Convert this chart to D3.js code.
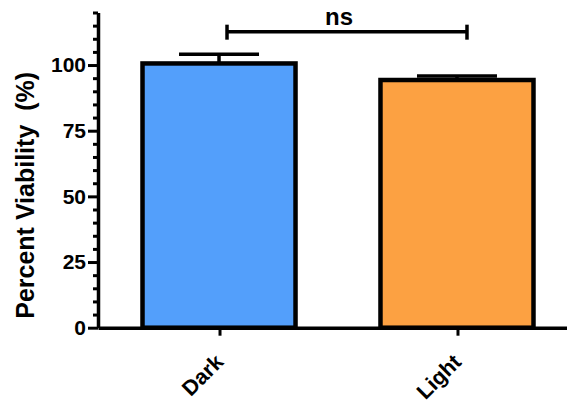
<!DOCTYPE html>
<html>
<head>
<meta charset="utf-8">
<script src="https://cdn.jsdelivr.net/npm/d3@7"></script>
<style>
  body { margin: 0; background: #fff; }
  svg text { font-family: "Liberation Sans", Arial, Helvetica, sans-serif; font-weight: bold; }
</style>
</head>
<body>
<div id="chart"></div>
<script>
// data
const groups = ["Dark", "Light"];
const means = [100.6, 94.3];
const errors = [3.5, 1.5];
const colors = ["#539ffb", "#fca142"];
const yTicks = [0, 25, 50, 75, 100];
const yMinorTicks = d3.range(0, 121, 5);
const sigLabel = "ns";

const width = 567, height = 402;

const svg = d3.select("#chart")
  .append("svg")
  .attr("width", width)
  .attr("height", height);

// scales
const x = d3.scaleBand()
  .domain(groups)
  .range([98, 578])
  .paddingInner(0.357)
  .paddingOuter(0.187);

const y = d3.scaleLinear()
  .domain([0, 120])
  .range([327.7, 12.5]);

// bars
svg.selectAll("rect.bar")
  .data(groups)
  .enter()
  .append("rect")
    .attr("class", "bar")
    .attr("x", d => x(d))
    .attr("y", (d, i) => y(means[i]))
    .attr("width", x.bandwidth())
    .attr("height", (d, i) => y(0) - y(means[i]))
    .attr("fill", (d, i) => colors[i])
    .attr("stroke", "#000")
    .attr("stroke-width", 4.5);

// error bars (upper only)
const capHalf = 40;
const err = svg.selectAll("g.err")
  .data(groups)
  .enter()
  .append("g")
    .attr("class", "err")
    .attr("stroke", "#000")
    .attr("stroke-width", 3.5);

err.append("line")
  .attr("x1", d => x(d) + x.bandwidth() / 2)
  .attr("x2", d => x(d) + x.bandwidth() / 2)
  .attr("y1", (d, i) => y(means[i]))
  .attr("y2", (d, i) => y(means[i] + errors[i]));

err.append("line")
  .attr("x1", d => x(d) + x.bandwidth() / 2 - capHalf)
  .attr("x2", d => x(d) + x.bandwidth() / 2 + capHalf)
  .attr("y1", (d, i) => y(means[i] + errors[i]))
  .attr("y2", (d, i) => y(means[i] + errors[i]));

// x-axis
const xAxis = svg.append("g")
  .attr("transform", `translate(0,${y(0)})`)
  .call(d3.axisBottom(x).tickSize(8).tickSizeOuter(0).tickPadding(0));

xAxis.select(".domain").attr("stroke-width", 3.5);
xAxis.selectAll(".tick line").attr("stroke-width", 3).attr("transform", "translate(1,0)");
xAxis.selectAll(".tick text")
  .attr("font-size", "21.5px")
  .attr("fill", "#000")
  .attr("text-anchor", "end")
  .attr("dy", 0)
  .attr("transform", "translate(0,30) rotate(-45)");

// y-axis major ticks
const yAxis = svg.append("g")
  .attr("transform", "translate(98,0)")
  .call(d3.axisLeft(y).tickValues(yTicks).tickSize(10).tickSizeOuter(0).tickPadding(2));

yAxis.select(".domain").attr("stroke-width", 3.5);
yAxis.selectAll(".tick line").attr("stroke-width", 3);
yAxis.selectAll(".tick text")
  .attr("font-size", "21px")
  .attr("fill", "#000");

// y-axis minor ticks
svg.append("g")
  .attr("transform", "translate(98,0)")
  .call(d3.axisLeft(y).tickValues(yMinorTicks.filter(v => !yTicks.includes(v))).tickSize(5).tickFormat(""))
  .call(g => g.select(".domain").remove())
  .selectAll(".tick line").attr("stroke-width", 3);

// y-axis title
svg.append("text")
  .attr("transform", `translate(34,${(y(0) + 45) / 2 + 9}) rotate(-90)`)
  .attr("text-anchor", "middle")
  .attr("font-size", "25px")
  .attr("fill", "#000")
  .attr("xml:space", "preserve")
  .style("white-space", "pre")
  .text("Percent Viability  (%)");

// significance bracket
const bracketY = y(112.7);
const bx1 = x("Dark") + x.bandwidth() / 2 + 8;
const bx2 = x("Light") + x.bandwidth() / 2 + 10;
const br = svg.append("g").attr("stroke", "#000").attr("stroke-width", 3.5);
br.append("line").attr("x1", bx1).attr("x2", bx2).attr("y1", bracketY).attr("y2", bracketY);
br.append("line").attr("x1", bx1).attr("x2", bx1).attr("y1", bracketY - 7).attr("y2", bracketY + 8);
br.append("line").attr("x1", bx2).attr("x2", bx2).attr("y1", bracketY - 7).attr("y2", bracketY + 8);

svg.append("text")
  .attr("x", (bx1 + bx2) / 2 - 8)
  .attr("y", bracketY - 7)
  .attr("text-anchor", "middle")
  .attr("font-size", "24px")
  .attr("fill", "#000")
  .text(sigLabel);
</script>
</body>
</html>
